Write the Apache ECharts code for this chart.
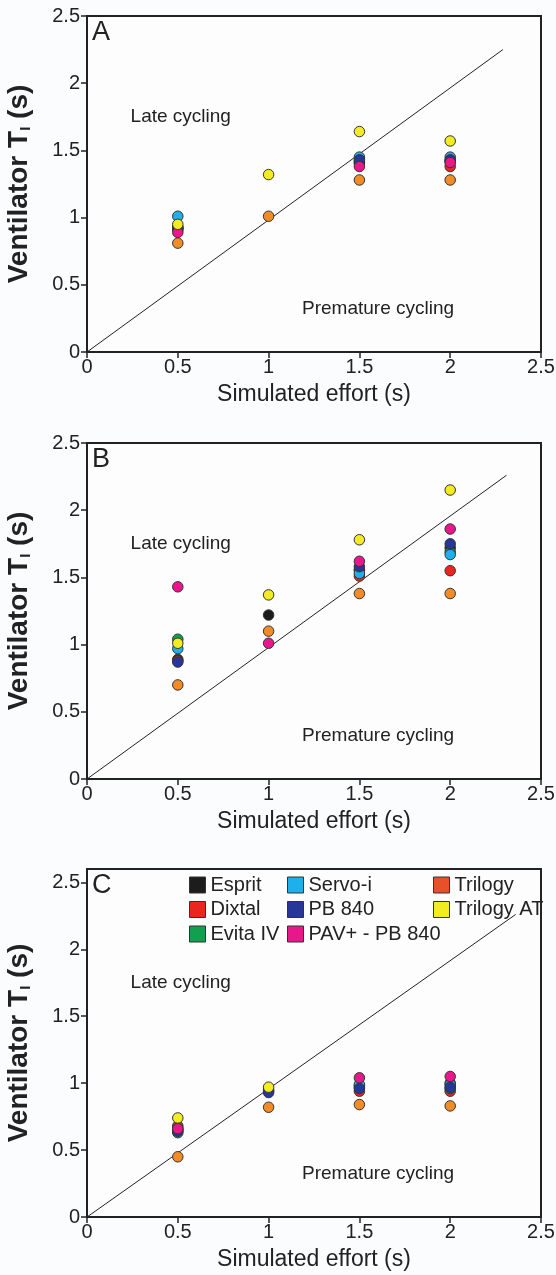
<!DOCTYPE html>
<html>
<head>
<meta charset="utf-8">
<script src="https://cdn.jsdelivr.net/npm/echarts@6/dist/echarts.min.js"></script>
<style>
  html, body { margin: 0; padding: 0; background: #fbfcfe; }
  #chart { width: 556px; height: 1275px; }
</style>
</head>
<body>
<div id="chart"></div>
<script>
// simulated effort (s) on the x axis
const efforts = [0.5, 1, 1.5, 2];
const xTicks = [0, 0.5, 1, 1.5, 2, 2.5];
const yTicks = [0, 0.5, 1, 1.5, 2, 2.5];
const ventilators = ['Esprit', 'Dixtal', 'Evita IV', 'Servo-i', 'PB 840', 'PAV+ - PB 840', 'Trilogy', 'Trilogy AT'];
const panelLetters = ['A', 'B', 'C'];

// ventilator TI (s), panel A
const espritA = [0.92, null, 1.41, 1.42];
const dixtalA = [0.91, null, 1.40, 1.38];
const evitaA = [0.92, null, 1.42, 1.42];
const servoA = [1.01, null, 1.45, 1.45];
const pb840A = [0.93, null, 1.43, 1.43];
const pavA = [0.89, null, 1.38, 1.41];
const trilogyA = [0.81, 1.01, 1.28, 1.28];
const trilogyAtA = [0.95, 1.32, 1.64, 1.57];

// panel B
const espritB = [0.89, 1.22, 1.55, 1.72];
const dixtalB = [0.88, null, 1.51, 1.55];
const evitaB = [1.04, null, 1.56, 1.69];
const servoB = [0.97, null, 1.53, 1.67];
const pb840B = [0.87, null, 1.58, 1.75];
const pavB = [1.43, 1.01, 1.62, 1.86];
const trilogyB = [0.70, 1.10, 1.38, 1.38];
const trilogyAtB = [1.01, 1.37, 1.78, 2.15];

// panel C
const espritC = [0.66, 0.95, 0.98, 1.00];
const dixtalC = [0.68, null, 0.94, 0.94];
const evitaC = [0.65, null, 0.97, 0.96];
const servoC = [0.63, 0.94, 0.99, 0.99];
const pb840C = [0.64, 0.93, 0.96, 0.97];
const pavC = [0.66, null, 1.04, 1.05];
const trilogyC = [0.45, 0.82, 0.84, 0.83];
const trilogyAtC = [0.74, 0.97, null, null];

// identity lines drawn in each panel
const identityA = [[0, 0], [2.29, 2.25]];
const identityB = [[0, 0], [2.31, 2.26]];
const identityC = [[0, 0], [2.36, 2.26]];

const panelValues = [
  [espritA, dixtalA, evitaA, servoA, pb840A, pavA, trilogyA, trilogyAtA],
  [espritB, dixtalB, evitaB, servoB, pb840B, pavB, trilogyB, trilogyAtB],
  [espritC, dixtalC, evitaC, servoC, pb840C, pavC, trilogyC, trilogyAtC],
];
const identities = [identityA, identityB, identityC];

const dotColors = ['#1c1c1c', '#e8281e', '#10a04e', '#1eb0ea', '#27369a', '#e8188c', '#f28c28', '#f4ec22'];
const FONT = '"Liberation Sans", Arial, sans-serif';
const INK = '#222';

const grids = [
  { top: 16, height: 336, yMax: 2.5 },
  { top: 443, height: 336, yMax: 2.5 },
  { top: 869, height: 348, yMax: 2.6 },
];

const chart = echarts.init(document.getElementById('chart'));

const series = [];
panelValues.forEach((rows, p) => {
  series.push({
    type: 'line',
    xAxisIndex: p,
    yAxisIndex: p,
    data: identities[p],
    symbol: 'none',
    silent: true,
    lineStyle: { color: INK, width: 1 },
    z: 1,
  });
  rows.forEach((vals, i) => {
    series.push({
      name: ventilators[i],
      type: 'scatter',
      xAxisIndex: p,
      yAxisIndex: p,
      data: efforts.map((x, k) => (vals[k] == null ? null : [x, vals[k]])),
      symbol: 'circle',
      symbolSize: 10.5,
      itemStyle: { color: dotColors[i], borderColor: '#333', borderWidth: 1, opacity: 1 },
      z: 3,
    });
  });
});

const legendText = { fontFamily: FONT, fontSize: 20, color: INK, lineHeight: 18 };
const legendBase = {
  orient: 'vertical',
  top: 875,
  padding: 0,
  itemWidth: 16,
  itemHeight: 16,
  itemGap: 4.5,
  icon: 'rect',
  itemStyle: { borderColor: '#333', borderWidth: 1 },
  textStyle: legendText,
  selectedMode: false,
};

chart.setOption({
  backgroundColor: '#fbfcfe',
  animation: false,
  grid: grids.map((g) => ({
    left: 87, width: 454, top: g.top, height: g.height,
    outerBoundsMode: 'none', containLabel: false,
    show: true, borderColor: INK, borderWidth: 2, backgroundColor: '#fdfdfe',
  })),
  xAxis: grids.map((g, p) => ({
    type: 'value', gridIndex: p, min: 0, max: 2.5, interval: 0.5,
    name: 'Simulated effort (s)', nameLocation: 'middle', nameGap: 31,
    nameTextStyle: { fontFamily: FONT, fontSize: 23, color: INK },
    axisLine: { show: true, lineStyle: { color: INK, width: 2 } },
    axisTick: { show: true, length: 6, lineStyle: { color: INK, width: 1.5 } },
    axisLabel: { fontFamily: FONT, fontSize: 20, color: INK, margin: 5 },
    splitLine: { show: false },
  })),
  yAxis: grids.map((g, p) => ({
    type: 'value', gridIndex: p, min: 0, max: g.yMax,
    name: 'Ventilator T{sub|I} (s)', nameLocation: 'middle', nameGap: 54,
    nameTextStyle: {
      fontFamily: FONT, fontSize: 28, fontWeight: 'bold', color: INK,
      rich: { sub: { fontFamily: FONT, fontSize: 15, fontWeight: 'bold', color: INK, verticalAlign: 'bottom', padding: [13, 0, 0, 0] } },
    },
    axisLine: { show: true, lineStyle: { color: INK, width: 2 } },
    axisTick: { show: true, length: 6, customValues: yTicks, lineStyle: { color: INK, width: 1.5 } },
    axisLabel: { fontFamily: FONT, fontSize: 20, color: INK, margin: 7, customValues: yTicks },
    splitLine: { show: false },
  })),
  legend: [
    Object.assign({}, legendBase, { left: 189, data: ventilators.slice(0, 3) }),
    Object.assign({}, legendBase, { left: 287, data: ventilators.slice(3, 6) }),
    Object.assign({}, legendBase, {
      left: 433,
      data: [{ name: 'Trilogy', itemStyle: { color: '#e8502c' } }, 'Trilogy AT'],
    }),
  ],
  series,
});

// region labels and panel letters, placed through each panel's own scales
const graphics = [];
grids.forEach((g, p) => {
  const late = chart.convertToPixel({ gridIndex: p }, [0.24, 1.75]);
  const prem = chart.convertToPixel({ gridIndex: p }, [1.184, 0.32]);
  graphics.push(
    { type: 'text', x: 92, y: g.top + 3, style: { text: panelLetters[p], font: `27px ${FONT}`, fill: INK, verticalAlign: 'top' } },
    { type: 'text', x: late[0], y: late[1], style: { text: 'Late cycling', font: `19px ${FONT}`, fill: INK, verticalAlign: 'middle' } },
    { type: 'text', x: prem[0], y: prem[1], style: { text: 'Premature cycling', font: `19px ${FONT}`, fill: INK, verticalAlign: 'middle' } },
  );
});
chart.setOption({ graphic: graphics });
</script>
</body>
</html>
